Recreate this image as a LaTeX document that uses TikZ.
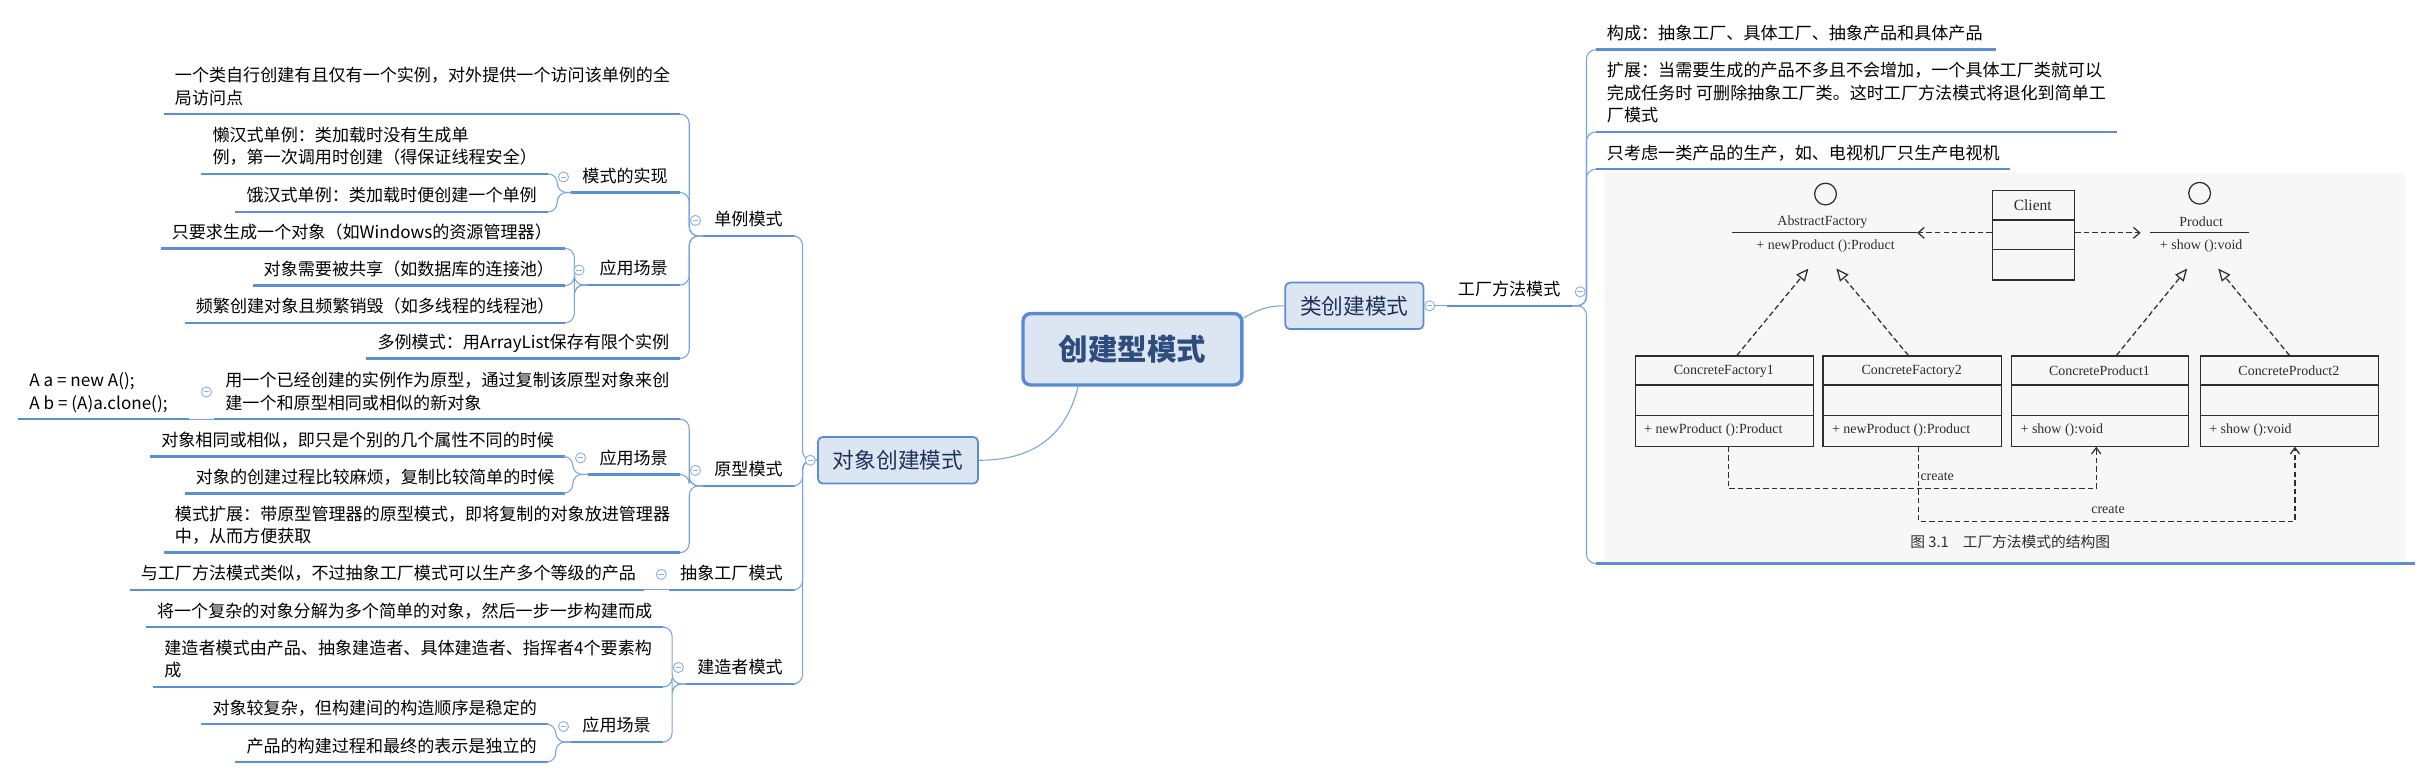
\documentclass[tikz,border=0pt]{standalone}
\usepackage{fontspec}
\setmainfont{Noto Sans CJK SC}
\newfontfamily\umlfont{Liberation Serif}
\usetikzlibrary{arrows.meta,calc}
\definecolor{ubl}{HTML}{5B8FD5}
\definecolor{cbl}{HTML}{7BA3DD}
\definecolor{boxfill}{HTML}{DCE6F2}
\definecolor{boxdraw}{HTML}{5A8AD0}
\definecolor{navy}{HTML}{1F3158}
\definecolor{rootc}{HTML}{2E4C7E}
\definecolor{markc}{HTML}{8EB1E2}
\definecolor{umlc}{HTML}{2E2E2E}
\definecolor{imgbg}{HTML}{F7F7F7}
\tikzset{
  topictext/.style={anchor=base west, inner sep=0pt, align=left, font=\fontsize{11}{14.5}\selectfont, text=black},
  uline/.style={draw=ubl, line width=1.6pt},
  conn/.style={draw=cbl, line width=0.7pt, rounded corners=6pt},
  rootconn/.style={draw=cbl, line width=0.7pt},
  marker/.style={circle, draw=markc, fill=white, line width=0.6pt, minimum size=6.5pt, inner sep=0pt,
     path picture={\draw[markc,line width=0.6pt] ([xshift=-1.8pt]path picture bounding box.center) -- ([xshift=1.8pt]path picture bounding box.center);}},
  rootbox/.style={draw=boxdraw, fill=boxfill, line width=2.2pt, rounded corners=5pt, minimum width=141pt, minimum height=46pt, inner sep=0pt, text=rootc, font=\fontsize{19}{19}\selectfont\bfseries},
  subbox/.style={draw=boxdraw, fill=boxfill, line width=1.1pt, rounded corners=3pt, minimum height=30pt, inner sep=0pt, text=navy, font=\fontsize{14}{14}\selectfont},
  umlline/.style={draw=umlc, line width=0.8pt},
  umltext/.style={inner sep=0pt, text=umlc, font=\umlfont\fontsize{9}{9}\selectfont},
  umldash/.style={draw=umlc, line width=0.8pt, dash pattern=on 3.5pt off 2pt},
  umlcirc/.style={circle, draw=umlc, line width=0.8pt, minimum size=14pt, inner sep=0pt},
}
% topic: name, underline left x, underline right x, underline y, text (last line sits on the underline)
\newcommand\mmtopic[5]{%
  \coordinate (#1-l) at (#2,#4);
  \coordinate (#1-r) at (#3,#4);
  \node[topictext] (#1) at ({#2+7},{#4-6.5}) {#5};
  \draw[uline] (#1-l) -- (#1-r);
}
\newcommand\umlcls[5]{%
  \node[draw=umlc, line width=0.8pt, inner sep=0pt, minimum width={#3-#2}, minimum height=58pt, anchor=north west] (#1) at (#2,229) {};
  \draw[umlline] (#2,248) -- (#3,248) (#2,267.5) -- (#3,267.5);
  \node[umltext] (#1-t) at ({(#2+#3)/2},239) {#4};
  \node[umltext, anchor=west] (#1-m) at ({#2+6},277) {#5};
}
\begin{document}
\begin{tikzpicture}[x=1pt,y=-1pt]
\useasboundingbox (0,0) rectangle (1568,501);

% ---------- UML picture background ----------
\node[fill=imgbg, inner sep=0pt, minimum width=516pt, minimum height=250pt, anchor=north west] (img) at (1033,111) {};

% ---------- trunks ----------
\coordinate (t-dx) at (517,0);
\coordinate (t-dl) at (444,0);
\coordinate (t-d2) at (359,0);
\coordinate (t-d3) at (370,0);
\coordinate (t-yx) at (444,0);
\coordinate (t-y2) at (369,0);
\coordinate (t-jz) at (433,0);
\coordinate (t-j3) at (358,0);
\coordinate (t-gf) at (1022,0);

% ---------- main boxes ----------
\node[rootbox] (root) at (729.5,225) {创建型模式};
\node[subbox, minimum width=89pt] (lei) at (872.5,197) {类创建模式};
\node[subbox, minimum width=103pt] (dx) at (578.5,296.5) {对象创建模式};

% ---------- topics ----------
\mmtopic{dl}{453}{512}{152}{单例模式}
\mmtopic{yx}{453}{512}{313}{原型模式}
\mmtopic{cx}{431}{512}{380}{抽象工厂模式}
\mmtopic{jz}{442}{512}{440.6}{建造者模式}
\mmtopic{d1}{105.5}{438}{73.5}{一个类自行创建有且仅有一个实例，对外提供一个访问该单例的全\\局访问点}
\mmtopic{d2}{368}{438}{124}{模式的实现}
\mmtopic{d21}{129.7}{353}{112}{懒汉式单例：类加载时没有生成单\\例，第一次调用时创建（得保证线程安全）}
\mmtopic{d22}{151.6}{353}{136.5}{饿汉式单例：类加载时便创建一个单例}
\mmtopic{d3}{379}{438}{183.6}{应用场景}
\mmtopic{d31}{103.5}{364}{160}{只要求生成一个对象（如Windows的资源管理器）}
\mmtopic{d32}{162.7}{364}{184}{对象需要被共享（如数据库的连接池）}
\mmtopic{d33}{119}{364}{208}{频繁创建对象且频繁销毁（如多线程的线程池）}
\mmtopic{d4}{236}{438}{231}{多例模式：用ArrayList保存有限个实例}
\mmtopic{y1}{138}{438}{270}{用一个已经创建的实例作为原型，通过复制该原型对象来创\\建一个和原型相同或相似的新对象}
\mmtopic{y11}{11.8}{122}{270}{A a = new A();\\A b = (A)a.clone();}
\mmtopic{y2}{379}{438}{305.6}{应用场景}
\mmtopic{y21}{96.7}{364}{294}{对象相同或相似，即只是个别的几个属性不同的时候}
\mmtopic{y22}{119}{364}{317.8}{对象的创建过程比较麻烦，复制比较简单的时候}
\mmtopic{y3}{105.5}{438}{356}{模式扩展：带原型管理器的原型模式，即将复制的对象放进管理器\\中，从而方便获取}
\mmtopic{c1}{83.5}{415}{380}{与工厂方法模式类似，不过抽象工厂模式可以生产多个等级的产品}
\mmtopic{j1}{94}{427}{404}{将一个复杂的对象分解为多个简单的对象，然后一步一步构建而成}
\mmtopic{j2}{98.7}{427}{442.6}{建造者模式由产品、抽象建造者、具体建造者、指挥者4个要素构\\成}
\mmtopic{j3}{368}{427}{478}{应用场景}
\mmtopic{j31}{129.7}{353}{466.5}{对象较复杂，但构建间的构造顺序是稳定的}
\mmtopic{j32}{151.6}{353}{491}{产品的构建过程和最终的表示是独立的}
\mmtopic{gf}{932}{1013}{197}{工厂方法模式}
\mmtopic{g1}{1028}{1286}{32}{构成：抽象工厂、具体工厂、抽象产品和具体产品}
\mmtopic{g2}{1028}{1364}{85}{扩展：当需要生成的产品不多且不会增加，一个具体工厂类就可以\\完成任务时 可删除抽象工厂类。这时工厂方法模式将退化到简单工\\厂模式}
\mmtopic{g3}{1028}{1295}{109}{只考虑一类产品的生产，如、电视机厂只生产电视机}
\coordinate (g4-l) at (1028,363);
\coordinate (g4-r) at (1556,363);
\draw[uline] (g4-l) -- (g4-r);

% ---------- connectors ----------
\draw[rootconn] ($(root.north east)+(0,4)$) .. controls +(10,-6) and +(-10,0) .. (lei.west);
\draw[rootconn] ($(root.south)+(-35,0)$) .. controls +(-8,32) and +(35,0) .. (dx.east);

\draw[conn] (lei.east) -- (gf-l);
\foreach \c in {g1,g2,g3,g4} \draw[conn] (gf-r) -- (gf-r -| t-gf) |- (\c-l);

\foreach \c in {dl,yx,cx,jz} \draw[conn] (dx.west) -- (dx.west -| t-dx) |- (\c-r);
\foreach \c in {d1,d2,d3,d4} \draw[conn] (dl-l) -- (dl-l -| t-dl) |- (\c-r);
\foreach \c in {d21,d22} \draw[conn] (d2-l) -- (d2-l -| t-d2) |- (\c-r);
\foreach \c in {d31,d32,d33} \draw[conn] (d3-l) -- (d3-l -| t-d3) |- (\c-r);
\foreach \c in {y1,y2,y3} \draw[conn] (yx-l) -- (yx-l -| t-yx) |- (\c-r);
\draw[conn] (y1-l) -- (y11-r);
\foreach \c in {y21,y22} \draw[conn] (y2-l) -- (y2-l -| t-y2) |- (\c-r);
\draw[conn] (cx-l) -- (c1-r);
\foreach \c in {j1,j2,j3} \draw[conn] (jz-l) -- (jz-l -| t-jz) |- (\c-r);
\foreach \c in {j31,j32} \draw[conn] (j3-l) -- (j3-l -| t-j3) |- (\c-r);

% ---------- collapse markers ----------
\node[marker] (m-lei) at (921,197) {};
\node[marker] (m-gf) at (1018,188) {};
\node[marker] (m-dx) at (522,296.5) {};
\node[marker] (m-dl) at (448,142) {};
\node[marker] (m-d2) at (363,114) {};
\node[marker] (m-d3) at (373,174) {};
\node[marker] (m-yx) at (448,303) {};
\node[marker] (m-y1) at (133,252.5) {};
\node[marker] (m-y2) at (374,295) {};
\node[marker] (m-cx) at (426,370) {};
\node[marker] (m-jz) at (437,430) {};
\node[marker] (m-j3) at (363,468) {};

% ---------- UML diagram ----------
\node[umlcirc] (afc) at (1176,125) {};
\node[umltext] (aft) at (1174,143) {AbstractFactory};
\coordinate (afl) at (1116,150);
\coordinate (afr) at (1235,150);
\draw[umlline] (afl) -- (afr);
\node[umltext] (afm) at (1176,158.5) {+ newProduct ():Product};

\node[umlcirc] (pc) at (1417,124.5) {};
\node[umltext] (pt) at (1418,143) {Product};
\coordinate (pl) at (1385,150);
\coordinate (pr) at (1449,150);
\draw[umlline] (pl) -- (pr);
\node[umltext] (pm) at (1418,158.5) {+ show ():void};

\node[draw=umlc, line width=0.8pt, minimum width=53pt, minimum height=57.5pt, inner sep=0pt, anchor=north west] (cl) at (1283,122.5) {};
\draw[umlline] (1283,141.7) -- (1336,141.7) (1283,160.5) -- (1336,160.5);
\node[umltext, font=\umlfont\fontsize{10}{10}\selectfont] (clt) at (1309.5,132) {Client};
\draw[umldash, -{Straight Barb[length=4pt,width=7pt]}] (cl.west |- afr) -- (afr);
\draw[umldash, -{Straight Barb[length=4pt,width=7pt]}] (cl.east |- pl) -- ($(pl)+(-6,0)$);

\umlcls{cf1}{1053}{1168}{ConcreteFactory1}{+ newProduct ():Product}
\umlcls{cf2}{1174}{1289}{ConcreteFactory2}{+ newProduct ():Product}
\umlcls{cp1}{1295.5}{1409.5}{ConcreteProduct1}{+ show ():void}
\umlcls{cp2}{1417}{1532}{ConcreteProduct2}{+ show ():void}

\coordinate (tip1) at (1165,173);
\coordinate (tip2) at (1183,173);
\coordinate (tip3) at (1409,173);
\coordinate (tip4) at (1429,173);
\draw[umldash, -{Triangle[open,length=8pt,width=7pt]}] ([xshift=8pt]cf1.north) -- (tip1);
\draw[umldash, -{Triangle[open,length=8pt,width=7pt]}] ([xshift=-2.5pt]cf2.north) -- (tip2);
\draw[umldash, -{Triangle[open,length=8pt,width=7pt]}] ([xshift=10.5pt]cp1.north) -- (tip3);
\draw[umldash, -{Triangle[open,length=8pt,width=7pt]}] (cp2.north) -- (tip4);

\draw[umldash, -{Straight Barb[length=4pt,width=6pt]}] ([xshift=2.5pt]cf1.south) -- ++(0,27) -| ([xshift=-2.5pt]cp1.south);
\draw[umldash, -{Straight Barb[length=4pt,width=6pt]}] ([xshift=4pt]cf2.south) -- ++(0,48) -| ([xshift=3.5pt]cp2.south);
\node[umltext, anchor=west] (cr1) at (1237,307) {create};
\node[umltext] (cr2) at (1358,328) {create};
\node[inner sep=0pt, font=\fontsize{9.5}{9.5}\selectfont, text=umlc] (cap) at (1295,349) {图 3.1\hspace{9pt}工厂方法模式的结构图};
\end{tikzpicture}
\end{document}
